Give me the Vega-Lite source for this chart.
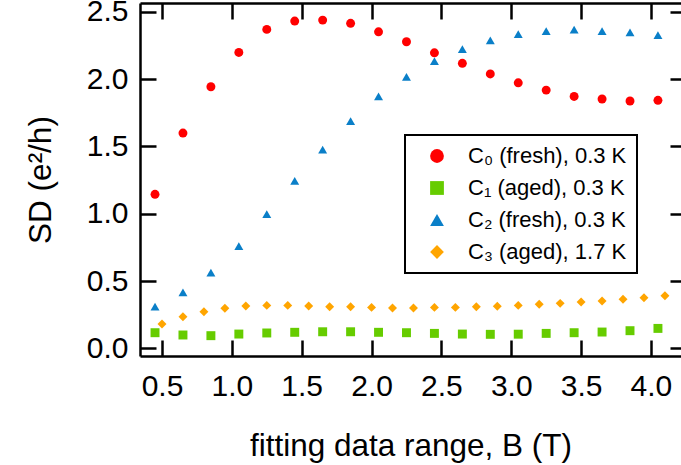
{
  "$schema": "https://vega.github.io/schema/vega-lite/v6.json",
  "autosize": {"type": "none"},
  "padding": {"left": 140, "top": 3, "right": 0, "bottom": 109},
  "width": 541,
  "height": 353,
  "background": "white",
  "data": {"values": [
    {"B": 0.45, "SD": 1.144, "s": "C₀ (fresh), 0.3 K"},
    {"B": 0.65, "SD": 1.599, "s": "C₀ (fresh), 0.3 K"},
    {"B": 0.85, "SD": 1.943, "s": "C₀ (fresh), 0.3 K"},
    {"B": 1.05, "SD": 2.198, "s": "C₀ (fresh), 0.3 K"},
    {"B": 1.25, "SD": 2.369, "s": "C₀ (fresh), 0.3 K"},
    {"B": 1.45, "SD": 2.431, "s": "C₀ (fresh), 0.3 K"},
    {"B": 1.65, "SD": 2.438, "s": "C₀ (fresh), 0.3 K"},
    {"B": 1.85, "SD": 2.414, "s": "C₀ (fresh), 0.3 K"},
    {"B": 2.05, "SD": 2.351, "s": "C₀ (fresh), 0.3 K"},
    {"B": 2.25, "SD": 2.277, "s": "C₀ (fresh), 0.3 K"},
    {"B": 2.45, "SD": 2.195, "s": "C₀ (fresh), 0.3 K"},
    {"B": 2.65, "SD": 2.117, "s": "C₀ (fresh), 0.3 K"},
    {"B": 2.85, "SD": 2.038, "s": "C₀ (fresh), 0.3 K"},
    {"B": 3.05, "SD": 1.972, "s": "C₀ (fresh), 0.3 K"},
    {"B": 3.25, "SD": 1.918, "s": "C₀ (fresh), 0.3 K"},
    {"B": 3.45, "SD": 1.871, "s": "C₀ (fresh), 0.3 K"},
    {"B": 3.65, "SD": 1.852, "s": "C₀ (fresh), 0.3 K"},
    {"B": 3.85, "SD": 1.837, "s": "C₀ (fresh), 0.3 K"},
    {"B": 4.05, "SD": 1.842, "s": "C₀ (fresh), 0.3 K"},
    {"B": 0.45, "SD": 0.116, "s": "C₁ (aged), 0.3 K"},
    {"B": 0.65, "SD": 0.099, "s": "C₁ (aged), 0.3 K"},
    {"B": 0.85, "SD": 0.094, "s": "C₁ (aged), 0.3 K"},
    {"B": 1.05, "SD": 0.106, "s": "C₁ (aged), 0.3 K"},
    {"B": 1.25, "SD": 0.114, "s": "C₁ (aged), 0.3 K"},
    {"B": 1.45, "SD": 0.119, "s": "C₁ (aged), 0.3 K"},
    {"B": 1.65, "SD": 0.123, "s": "C₁ (aged), 0.3 K"},
    {"B": 1.85, "SD": 0.123, "s": "C₁ (aged), 0.3 K"},
    {"B": 2.05, "SD": 0.119, "s": "C₁ (aged), 0.3 K"},
    {"B": 2.25, "SD": 0.116, "s": "C₁ (aged), 0.3 K"},
    {"B": 2.45, "SD": 0.111, "s": "C₁ (aged), 0.3 K"},
    {"B": 2.65, "SD": 0.106, "s": "C₁ (aged), 0.3 K"},
    {"B": 2.85, "SD": 0.104, "s": "C₁ (aged), 0.3 K"},
    {"B": 3.05, "SD": 0.105, "s": "C₁ (aged), 0.3 K"},
    {"B": 3.25, "SD": 0.111, "s": "C₁ (aged), 0.3 K"},
    {"B": 3.45, "SD": 0.116, "s": "C₁ (aged), 0.3 K"},
    {"B": 3.65, "SD": 0.121, "s": "C₁ (aged), 0.3 K"},
    {"B": 3.85, "SD": 0.131, "s": "C₁ (aged), 0.3 K"},
    {"B": 4.05, "SD": 0.148, "s": "C₁ (aged), 0.3 K"},
    {"B": 0.45, "SD": 0.309, "s": "C₂ (fresh), 0.3 K"},
    {"B": 0.65, "SD": 0.416, "s": "C₂ (fresh), 0.3 K"},
    {"B": 0.85, "SD": 0.562, "s": "C₂ (fresh), 0.3 K"},
    {"B": 1.05, "SD": 0.760, "s": "C₂ (fresh), 0.3 K"},
    {"B": 1.25, "SD": 0.997, "s": "C₂ (fresh), 0.3 K"},
    {"B": 1.45, "SD": 1.243, "s": "C₂ (fresh), 0.3 K"},
    {"B": 1.65, "SD": 1.475, "s": "C₂ (fresh), 0.3 K"},
    {"B": 1.85, "SD": 1.688, "s": "C₂ (fresh), 0.3 K"},
    {"B": 2.05, "SD": 1.872, "s": "C₂ (fresh), 0.3 K"},
    {"B": 2.25, "SD": 2.017, "s": "C₂ (fresh), 0.3 K"},
    {"B": 2.45, "SD": 2.134, "s": "C₂ (fresh), 0.3 K"},
    {"B": 2.65, "SD": 2.223, "s": "C₂ (fresh), 0.3 K"},
    {"B": 2.85, "SD": 2.288, "s": "C₂ (fresh), 0.3 K"},
    {"B": 3.05, "SD": 2.333, "s": "C₂ (fresh), 0.3 K"},
    {"B": 3.25, "SD": 2.357, "s": "C₂ (fresh), 0.3 K"},
    {"B": 3.45, "SD": 2.367, "s": "C₂ (fresh), 0.3 K"},
    {"B": 3.65, "SD": 2.357, "s": "C₂ (fresh), 0.3 K"},
    {"B": 3.85, "SD": 2.347, "s": "C₂ (fresh), 0.3 K"},
    {"B": 4.05, "SD": 2.327, "s": "C₂ (fresh), 0.3 K"},
    {"B": 0.50, "SD": 0.180, "s": "C₃ (aged), 1.7 K"},
    {"B": 0.65, "SD": 0.235, "s": "C₃ (aged), 1.7 K"},
    {"B": 0.80, "SD": 0.272, "s": "C₃ (aged), 1.7 K"},
    {"B": 0.95, "SD": 0.297, "s": "C₃ (aged), 1.7 K"},
    {"B": 1.10, "SD": 0.314, "s": "C₃ (aged), 1.7 K"},
    {"B": 1.25, "SD": 0.319, "s": "C₃ (aged), 1.7 K"},
    {"B": 1.40, "SD": 0.319, "s": "C₃ (aged), 1.7 K"},
    {"B": 1.55, "SD": 0.314, "s": "C₃ (aged), 1.7 K"},
    {"B": 1.70, "SD": 0.309, "s": "C₃ (aged), 1.7 K"},
    {"B": 1.85, "SD": 0.309, "s": "C₃ (aged), 1.7 K"},
    {"B": 2.00, "SD": 0.304, "s": "C₃ (aged), 1.7 K"},
    {"B": 2.15, "SD": 0.299, "s": "C₃ (aged), 1.7 K"},
    {"B": 2.30, "SD": 0.299, "s": "C₃ (aged), 1.7 K"},
    {"B": 2.45, "SD": 0.304, "s": "C₃ (aged), 1.7 K"},
    {"B": 2.60, "SD": 0.304, "s": "C₃ (aged), 1.7 K"},
    {"B": 2.75, "SD": 0.309, "s": "C₃ (aged), 1.7 K"},
    {"B": 2.90, "SD": 0.312, "s": "C₃ (aged), 1.7 K"},
    {"B": 3.05, "SD": 0.319, "s": "C₃ (aged), 1.7 K"},
    {"B": 3.20, "SD": 0.327, "s": "C₃ (aged), 1.7 K"},
    {"B": 3.35, "SD": 0.334, "s": "C₃ (aged), 1.7 K"},
    {"B": 3.50, "SD": 0.344, "s": "C₃ (aged), 1.7 K"},
    {"B": 3.65, "SD": 0.351, "s": "C₃ (aged), 1.7 K"},
    {"B": 3.80, "SD": 0.364, "s": "C₃ (aged), 1.7 K"},
    {"B": 3.95, "SD": 0.376, "s": "C₃ (aged), 1.7 K"},
    {"B": 4.10, "SD": 0.391, "s": "C₃ (aged), 1.7 K"}
  ]},
  "layer": [
    {
      "mark": {"type": "point", "filled": true, "opacity": 1, "size": 80},
      "encoding": {
        "x": {"field": "B", "type": "quantitative",
              "scale": {"domain": [0.3425, 4.215], "nice": false, "zero": false},
              "axis": {"orient": "bottom", "values": [0.5, 1.0, 1.5, 2.0, 2.5, 3.0, 3.5, 4.0], "format": ".1f",
                       "title": "fitting data range, B (T)", "labelPadding": 31, "titlePadding": 29}},
        "y": {"field": "SD", "type": "quantitative",
              "scale": {"domain": [-0.057, 2.565], "nice": false, "zero": false},
              "axis": {"orient": "left", "values": [0.0, 0.5, 1.0, 1.5, 2.0, 2.5], "format": ".1f",
                       "title": "SD (e²/h)", "labelPadding": 28, "titlePadding": 29}},
        "color": {"field": "s", "type": "nominal",
                  "scale": {"domain": ["C₀ (fresh), 0.3 K", "C₁ (aged), 0.3 K", "C₂ (fresh), 0.3 K", "C₃ (aged), 1.7 K"],
                            "range": ["#FF0000", "#66CC00", "#0A7FC8", "#FFA500"]},
                  "legend": {"orient": "none", "legendX": 265, "legendY": 132, "title": null}},
        "shape": {"field": "s", "type": "nominal",
                  "scale": {"domain": ["C₀ (fresh), 0.3 K", "C₁ (aged), 0.3 K", "C₂ (fresh), 0.3 K", "C₃ (aged), 1.7 K"],
                            "range": ["circle", "square", "triangle-up", "diamond"]},
                  "legend": {"orient": "none", "legendX": 265, "legendY": 132, "title": null}}
      }
    },
    {
      "mark": {"type": "point", "opacity": 0},
      "encoding": {
        "x": {"field": "B", "type": "quantitative",
              "scale": {"domain": [0.3425, 4.215], "nice": false, "zero": false},
              "axis": {"orient": "top", "values": [0.5, 1.0, 1.5, 2.0, 2.5, 3.0, 3.5, 4.0], "labels": false, "title": null}},
        "y": {"field": "SD", "type": "quantitative",
              "scale": {"domain": [-0.057, 2.565], "nice": false, "zero": false},
              "axis": {"orient": "right", "values": [0.0, 0.5, 1.0, 1.5, 2.0, 2.5], "labels": false, "title": null, "domain": false, "tickSize": -11}}
      }
    }
  ],
  "resolve": {"axis": {"x": "independent", "y": "independent"}},
  "config": {
    "view": {"stroke": null},
    "font": "Liberation Sans",
    "axis": {
      "grid": false,
      "domainColor": "black", "domainWidth": 2.5,
      "tickColor": "black", "tickWidth": 2.5, "tickSize": -16,
      "labelFont": "Liberation Sans", "labelFontSize": 30, "labelColor": "black",
      "titleFont": "Liberation Sans", "titleFontSize": 31.5, "titleFontWeight": "normal", "titleColor": "black"
    },
    "legend": {
      "strokeColor": "black", "strokeWidth": 2, "fillColor": "white",
      "padding": 10, "symbolOffset": 11, "symbolSize": 190, "symbolStrokeWidth": 0,
      "labelFont": "Liberation Sans", "labelFontSize": 22, "labelColor": "black",
      "labelOffset": 20, "rowPadding": 10, "symbolType": "circle"
    }
  }
}
